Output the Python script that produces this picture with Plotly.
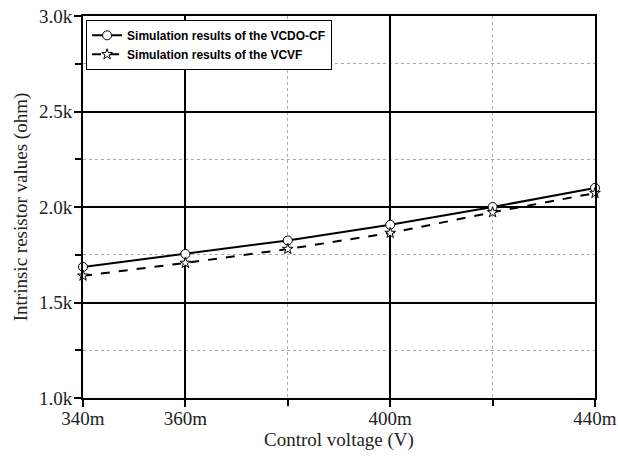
import plotly.graph_objects as go

control_voltage_mV = [340, 360, 380, 400, 420, 440]
vcdo_cf_ohm = [1686, 1754, 1825, 1907, 2000, 2100]
vcvf_ohm = [1640, 1707, 1780, 1864, 1972, 2073]

x_tickvals = [340, 360, 400, 440]
x_ticktext = ["340m", "360m", "400m", "440m"]
x_minor = [380, 420]
y_tickvals = [1000, 1500, 2000, 2500, 3000]
y_ticktext = ["1.0k", "1.5k", "2.0k", "2.5k", "3.0k"]
y_minor = [1250, 1750, 2250, 2750]

fig = go.Figure()
fig.add_trace(go.Scatter(
    x=control_voltage_mV, y=vcdo_cf_ohm, mode="lines+markers",
    name="Simulation results of the VCDO-CF",
    line=dict(color="black", width=2),
    marker=dict(symbol="circle", size=9, color="white", line=dict(color="black", width=1)),
    cliponaxis=False,
))
fig.add_trace(go.Scatter(
    x=control_voltage_mV, y=vcvf_ohm, mode="lines+markers",
    name="Simulation results of the VCVF",
    line=dict(color="black", width=2, dash="dash"),
    marker=dict(symbol="star", size=8, color="white", line=dict(color="black", width=1)),
    cliponaxis=False,
))

serif = "Liberation Serif, Times New Roman, serif"
axis_common = dict(
    showline=True, linecolor="black", linewidth=2, mirror=True,
    ticks="outside", ticklen=7, tickwidth=1.5, tickcolor="black",
    showgrid=True, gridcolor="black", gridwidth=1.5,
    zeroline=False, automargin=False,
    tickfont=dict(family=serif, size=19, color="#222"),
)

fig.update_layout(
    width=618, height=462,
    margin=dict(l=83, r=23, t=16, b=64),
    paper_bgcolor="white", plot_bgcolor="white",
    showlegend=True,
    legend=dict(
        x=0.006, y=0.99, xanchor="left", yanchor="top",
        bgcolor="white", bordercolor="black", borderwidth=1,
        font=dict(family="Liberation Sans, Arial, sans-serif", size=12, color="black", weight="bold"),
        itemwidth=30, tracegroupgap=0,
    ),
    xaxis=dict(
        **axis_common,
        range=[340, 440],
        ticklabelstandoff=-5,
        tickmode="array", tickvals=x_tickvals, ticktext=x_ticktext,
        minor=dict(tickmode="array", tickvals=x_minor, ticks="outside", ticklen=6,
                   tickcolor="black", showgrid=True, gridcolor="#aaa", griddash="dot", gridwidth=1),
        title=dict(text="Control voltage (V)", font=dict(family=serif, size=19, color="#222"), standoff=4),
    ),
    yaxis=dict(
        **axis_common,
        range=[1000, 3000],
        ticklabelstandoff=-2,
        tickmode="array", tickvals=y_tickvals, ticktext=y_ticktext,
        minor=dict(tickmode="array", tickvals=y_minor, ticks="outside", ticklen=6,
                   tickcolor="black", showgrid=True, gridcolor="#aaa", griddash="dot", gridwidth=1),
        title=dict(text="Intrinsic resistor values (ohm)", font=dict(family=serif, size=19, color="#222"), standoff=6),
    ),
)

fig.write_html("out.html")
